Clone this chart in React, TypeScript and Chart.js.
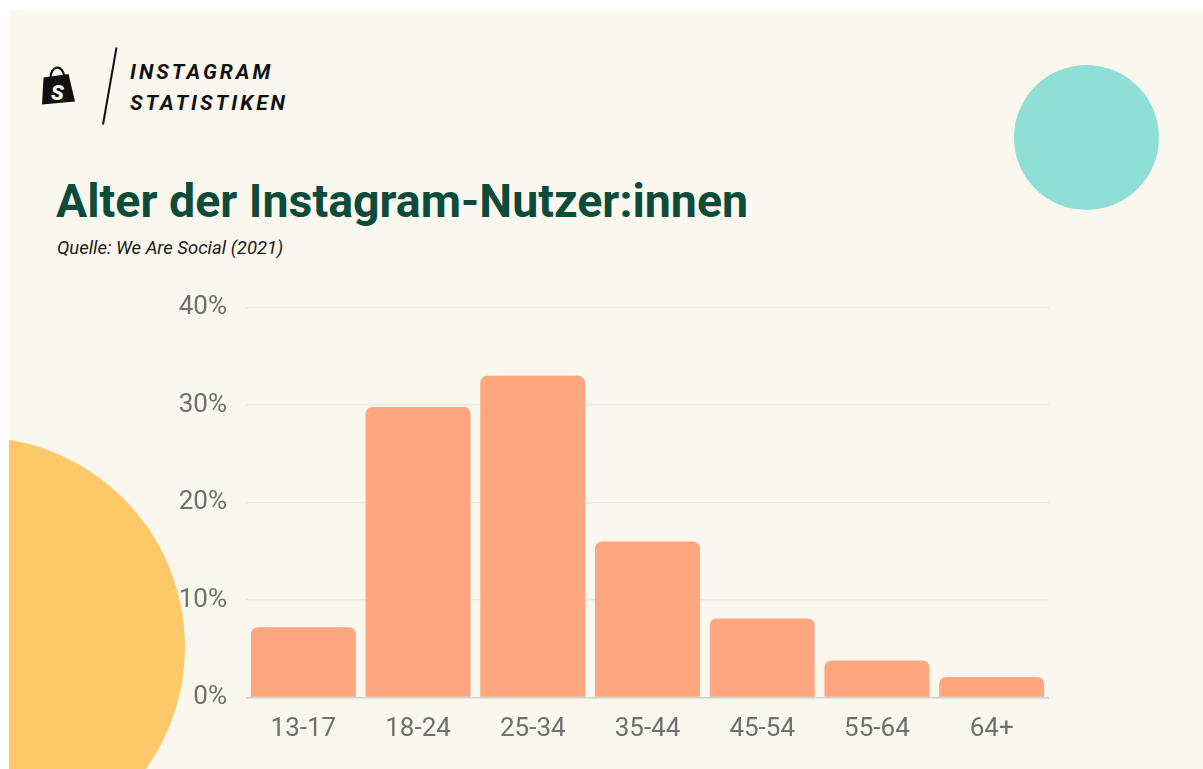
import React, { useEffect, useRef } from "react";
import { Chart, registerables } from "chart.js";

Chart.register(...registerables);

const categories = ["13-17", "18-24", "25-34", "35-44", "45-54", "55-64", "64+"];
const shares = [7.2, 29.8, 33.0, 16.0, 8.1, 3.8, 2.1];
const yTickValues = [0, 10, 20, 30, 40];

const headerLines = ["INSTAGRAM", "STATISTIKEN"];
const titleText = "Alter der Instagram-Nutzer:innen";
const sourceText = "Quelle: We Are Social (2021)";

const CREAM = "#FAF7EE";
const BAR = "#FDA67F";
const TICK = "#6E716F";

// canvas placement in page coordinates
const CV_LEFT = 100;
const CV_TOP = 273;
const CV_W = 1000;
const CV_H = 480;

function BarChart() {
  const ref = useRef<HTMLCanvasElement | null>(null);
  useEffect(() => {
    if (!ref.current) return;
    const chart = new Chart(ref.current, {
      type: "bar",
      data: {
        labels: categories,
        datasets: [
          {
            data: shares,
            backgroundColor: BAR,
            borderRadius: 7,
            borderSkipped: "start",
            barPercentage: 0.915,
            categoryPercentage: 1,
          },
        ],
      },
      options: {
        animation: false,
        responsive: false,
        maintainAspectRatio: false,
        layout: { padding: { top: 20, right: 51, left: 0, bottom: 0 } },
        plugins: { legend: { display: false }, tooltip: { enabled: false } },
        scales: {
          x: {
            grid: { display: false },
            border: { display: false },
            ticks: {
              color: TICK,
              font: { family: "Roboto", size: 26 },
              padding: 8,
              maxRotation: 0,
            },
            afterFit: (axis: any) => {
              axis.height = 55.5;
            },
          },
          y: {
            min: 0,
            max: 40,
            afterBuildTicks: (axis: any) => {
              axis.ticks = yTickValues.map((v) => ({ value: v }));
            },
            grid: {
              drawTicks: false,
              lineWidth: 1.5,
              color: (ctx: any) => (ctx.tick && ctx.tick.value === 0 ? "#CCD3D4" : "#ECE9E0"),
            },
            border: { display: false },
            ticks: {
              color: TICK,
              font: { family: "Roboto", size: 26 },
              padding: 19,
              callback: (v: any) => v + "%",
            },
            afterFit: (axis: any) => {
              axis.width = 146;
            },
          },
        },
      },
    });
    return () => chart.destroy();
  }, []);
  return (
    <canvas
      ref={ref}
      width={CV_W}
      height={CV_H}
      style={{ position: "absolute", left: CV_LEFT, top: CV_TOP, width: CV_W, height: CV_H }}
    />
  );
}

export default function App() {
  return (
    <div
      style={{
        position: "absolute",
        left: 0,
        top: 0,
        width: 1203,
        height: 769,
        background: "#ffffff",
        overflow: "hidden",
        fontFamily: "Roboto, sans-serif",
      }}
    >
      <div
        style={{
          position: "absolute",
          left: 9,
          top: 10,
          width: 1194,
          height: 759,
          background: CREAM,
          overflow: "hidden",
        }}
      >
        <div
          style={{
            position: "absolute",
            left: -34 - 210,
            top: 637 - 210,
            width: 420,
            height: 420,
            borderRadius: "50%",
            background: "#FDC868",
          }}
        />
        <div
          style={{
            position: "absolute",
            left: 1077 - 72.5,
            top: 127 - 72.5,
            width: 145,
            height: 145,
            borderRadius: "50%",
            background: "#8FDFD6",
          }}
        />
      </div>

      {/* logo */}
      <svg
        width={1203}
        height={140}
        style={{ position: "absolute", left: 0, top: 0 }}
      >
        <path d="M50.5 79 C50 65 63 63.5 64.5 77" fill="none" stroke="#111" strokeWidth={2.2} />
        <path d="M43.5 77.5 L68.5 74 L75 101.5 L42 104.5 Z" fill="#111" />
        <text
          x={57.5}
          y={99.5}
          fill="#fff"
          fontFamily="Roboto"
          fontWeight={900}
          fontStyle="italic"
          fontSize={21}
          textAnchor="middle"
        >
          S
        </text>
        <line x1={116.5} y1={47.5} x2={103} y2={124.5} stroke="#111" strokeWidth={2} />
      </svg>

      <div
        style={{
          position: "absolute",
          left: 130,
          top: 56.6,
          fontSize: 21,
          lineHeight: "31px",
          fontWeight: 700,
          fontStyle: "italic",
          letterSpacing: 3,
          color: "#111",
          whiteSpace: "nowrap",
        }}
      >
        {headerLines.map((l) => (
          <div key={l}>{l}</div>
        ))}
      </div>

      <div
        style={{
          position: "absolute",
          left: 56,
          top: 177.6,
          fontSize: 46.5,
          lineHeight: "46px",
          fontWeight: 700,
          color: "#0D4B3B",
          whiteSpace: "nowrap",
        }}
      >
        {titleText}
      </div>

      <div
        style={{
          position: "absolute",
          left: 57,
          top: 238.5,
          fontSize: 18.5,
          lineHeight: "18px",
          fontStyle: "italic",
          color: "#1a1a1a",
          whiteSpace: "nowrap",
        }}
      >
        {sourceText}
      </div>

      <BarChart />
    </div>
  );
}
